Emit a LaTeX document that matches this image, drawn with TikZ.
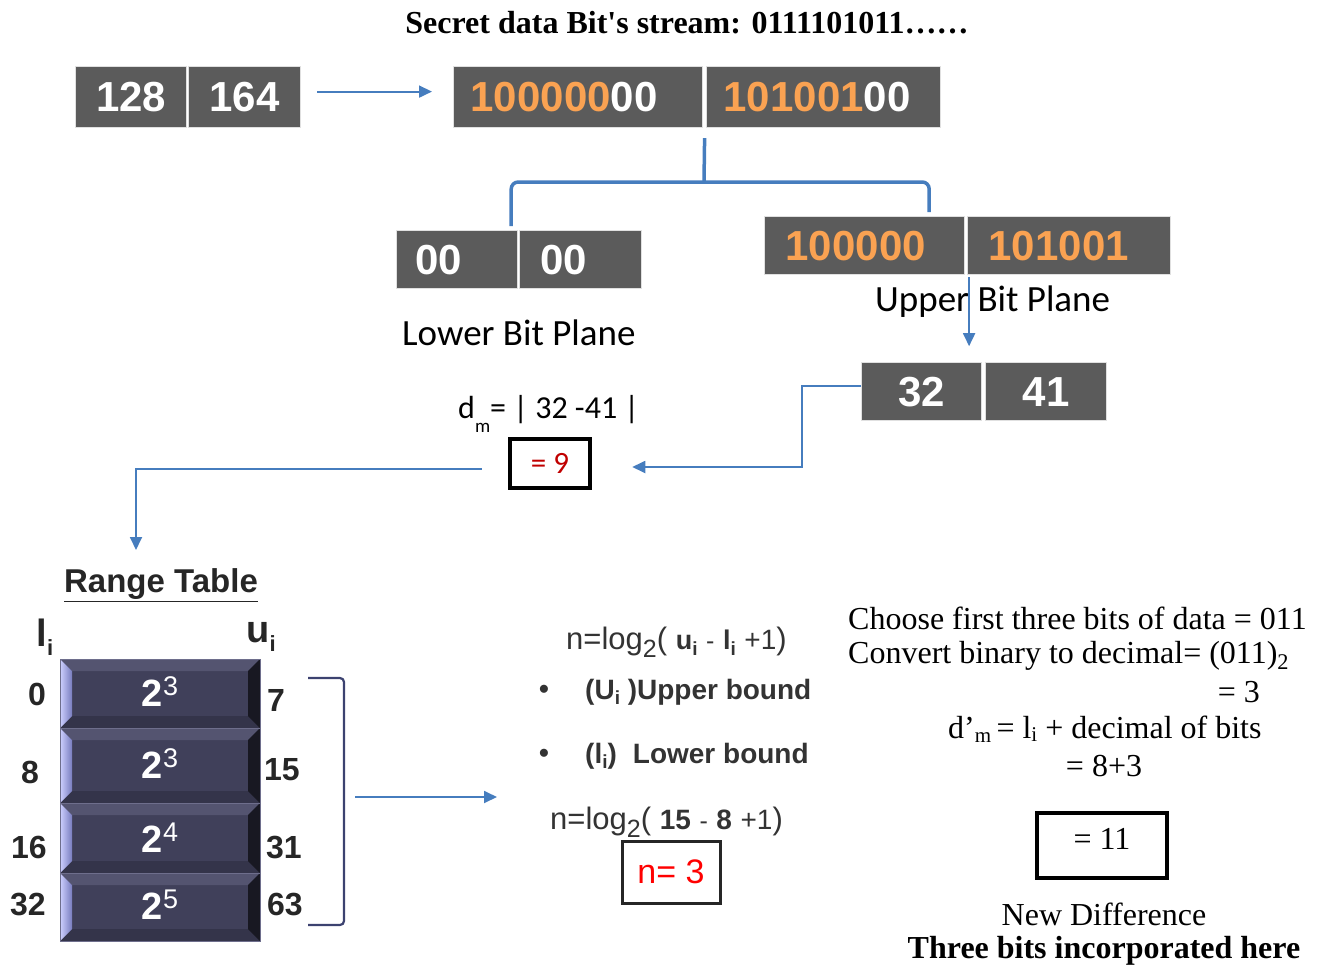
\documentclass[tikz,border=0pt]{standalone}
\usepackage{fontspec}
\setmainfont{Liberation Serif}
\setsansfont{Liberation Sans}
\newfontfamily\calibri{Carlito}
\newfontfamily\plainserif{Liberation Serif}[Ligatures=TeXOff]
\usetikzlibrary{arrows.meta,calc}

\newcommand\fsz[1]{\fontsize{#1}{#1}\selectfont}

\definecolor{cellgray}{RGB}{91,91,91}
\definecolor{bitorange}{RGB}{250,162,82}
\definecolor{flowblue}{RGB}{70,125,190}
\definecolor{plate}{RGB}{64,64,90}
\definecolor{platetop}{RGB}{84,84,112}
\definecolor{platebot}{RGB}{52,52,74}
\definecolor{plateright}{RGB}{24,24,34}
\definecolor{plateedge}{RGB}{110,110,140}
\definecolor{bracketcol}{RGB}{60,66,112}
\definecolor{inkgray}{RGB}{38,38,38}
\definecolor{formgray}{RGB}{51,51,51}
\definecolor{ninered}{RGB}{192,0,0}

\tikzset{
  cell/.style={fill=cellgray, draw=white!88!black, line width=1.2pt, text=white,
    font=\sffamily\bfseries\fsz{42}, inner sep=0pt, anchor=north west},
  flow/.style={draw=flowblue, line width=1.8pt, -{Triangle[length=13pt,width=12pt]}},
  tree/.style={draw=flowblue, line width=3.5pt},
  bracketline/.style={draw=bracketcol, line width=2.2pt, rounded corners=4pt},
  resbox/.style={draw=black, line width=4.5pt, inner sep=0pt},
  tnum/.style={font=\sffamily\bfseries\fsz{32}, text=inkgray, inner sep=0pt},
  expo/.style={font=\sffamily\bfseries\fsz{38}, text=white, inner sep=0pt},
  rtxt/.style={font=\fsz{32}, inner sep=0pt},
  form/.style={font=\sffamily\fsz{31}, text=formgray, inner sep=0pt},
  bul/.style={font=\sffamily\bfseries\fsz{28}, text=formgray, inner sep=0pt},
  cal/.style={font=\calibri\fsz{37}, inner sep=0pt}
}

\begin{document}
\begin{tikzpicture}[x=1pt,y=-1pt]
\useasboundingbox (0,0) rectangle (1317,966);

% heading
\node[font=\plainserif\bfseries\fsz{32}, inner sep=0pt] (title) at (687,23)
  {Secret data Bit's stream: 0111101011……};

% pixel pair and its binary form
\node[cell, minimum width=111pt, minimum height=61pt] (p128) at (75,66) {128};
\node[cell, minimum width=112pt, minimum height=61pt] (p164) at (188,66) {164};
\node[cell, minimum height=61pt, inner xsep=17pt, text width=215pt, align=left] (b1) at (453,66)
  {\textcolor{bitorange}{100000}00};
\node[cell, minimum height=61pt, inner xsep=17pt, text width=200pt, align=left] (b2) at (706,66)
  {\textcolor{bitorange}{101001}00};

% lower and upper bit planes
\node[cell, minimum height=58pt, inner xsep=19pt, text width=83pt, align=left] (lo1) at (396,230) {00};
\node[cell, minimum height=58pt, inner xsep=21pt, text width=80pt, align=left] (lo2) at (519,230) {00};
\node[cell, minimum height=58pt, inner xsep=21pt, text width=158pt, align=left, text=bitorange] (up1) at (764,216) {100000};
\node[cell, minimum height=58pt, inner xsep=21pt, text width=161pt, align=left, text=bitorange] (up2) at (967,216) {101001};
\node[cal, anchor=west] (lowlbl) at (402,333) {Lower Bit Plane};
\node[cal, anchor=west] (uplbl) at (875,302) {Upper Bit Plane};

% decimal values of the upper planes
\node[cell, minimum width=120pt, minimum height=58pt] (c32) at (861,362) {32};
\node[cell, minimum width=121pt, minimum height=58pt] (c41) at (985,362) {41};

% difference
\node[font=\calibri\fsz{32}, inner sep=0pt, anchor=west] (dm) at (458,414)
  {d\raisebox{-14pt}{\fsz{19}m}= | 32 -41 |};
\node[resbox, minimum width=80pt, minimum height=49pt, font=\calibri\fsz{31}, text=ninered] (nine) at (550,463.5) {= 9};

% connectors of the upper part
\draw[flow] ([xshift=16pt,yshift=5.5pt]p164.east) -- ([xshift=-21pt,yshift=5.5pt]b1.west);
\coordinate (fork) at (704,182);
\draw[tree] ($(b1.south east)!.5!(b2.south west)$) ++(0,10) -- (fork);
\draw[tree, rounded corners=7pt] ([xshift=-7pt,yshift=4pt]lo1.north east) |- (fork)
  -| ([xshift=-36pt,yshift=4pt]up1.north east);
\coordinate (split) at ($(up1.south east)!.5!(up2.south west)$);
\draw[flow] ([xshift=3pt,yshift=-2pt]split) -- ++(0,69);
\draw[flow] ([yshift=6pt]c32.west) -- ++(-59,0) |- ([xshift=40pt,yshift=-3.5pt]nine.east);
\coordinate (rtin) at (136,550);
\draw[flow] ([xshift=-26pt,yshift=-5.5pt]nine.west) -| (rtin);

% range table
\node[font=\sffamily\bfseries\fsz{33}, text=inkgray, inner sep=0pt] (rtitle) at (161,585) {\underline{Range Table}};
\node[inner sep=0pt, text=inkgray, font=\sffamily\bfseries] (lhead) at (45,637)
  {\fsz{38}l\raisebox{-9pt}{\fsz{22}i}};
\node[inner sep=0pt, text=inkgray, font=\sffamily\bfseries] (uhead) at (261,637)
  {\fsz{38}u\raisebox{-9pt}{\fsz{22}i}};

\foreach \t/\b in {659/728,728/803,803/873,873/941}{
  \fill[plate] (60,\t) rectangle (260,\b);
  \fill[platetop] (60,\t) -- (260,\t) -- (248,\t+12) -- (72,\t+12) -- cycle;
  \fill[platebot] (60,\b) -- (260,\b) -- (248,\b-12) -- (72,\b-12) -- cycle;
  \fill[plateright] (260,\t) -- (260,\b) -- (248,\b-12) -- (248,\t+12) -- cycle;
  \shade[left color={rgb,255:red,205;green,208;blue,255}, right color={rgb,255:red,120;green,124;blue,190}]
    (60,\t) -- (72,\t+12) -- (72,\b-12) -- (60,\b) -- cycle;
  \draw[plateedge, line width=0.8pt] (60,\t) rectangle (260,\b);
}
\node[expo] (e1) at (160,692) {2\raisebox{11pt}{\fsz{27}\mdseries 3}};
\node[expo] (e2) at (160,764) {2\raisebox{11pt}{\fsz{27}\mdseries 3}};
\node[expo] (e3) at (160,838) {2\raisebox{11pt}{\fsz{27}\mdseries 4}};
\node[expo] (e4) at (160,905) {2\raisebox{11pt}{\fsz{27}\mdseries 5}};

\node[tnum] (l0) at (37,694) {0};
\node[tnum] (l8) at (30,772) {8};
\node[tnum] (l16) at (29,847) {16};
\node[tnum] (l32) at (28,904) {32};
\node[tnum] (u7) at (276,700) {7};
\node[tnum] (u15) at (282,770) {15};
\node[tnum] (u31) at (284,847) {31};
\node[tnum] (u63) at (285,904) {63};

\draw[bracketline] (308,678) -- (344,678) -- (344,925) -- (308,925);
\coordinate (brk) at (344,797);
\draw[flow] ([xshift=11pt]brk) -- ++(142,0);

% bit count formula
\node[form, anchor=west] (f1) at (566,642)
  {n=log\raisebox{-8pt}{\fsz{25}2}( {\bfseries\fsz{27}u\raisebox{-6pt}{\fsz{19}i}} {\fsz{25}-} {\bfseries\fsz{27}l\raisebox{-6pt}{\fsz{19}i}} {\fsz{28}+1})};
\node[bul] (dot1) at (544,692) {•};
\node[bul, anchor=west] (ub) at (585,692) {(U\raisebox{-5pt}{\fsz{19}i} )Upper bound};
\node[bul] (dot2) at (544,756) {•};
\node[bul, anchor=west] (lb) at (585,756) {(l\raisebox{-5pt}{\fsz{19}i})\hspace{16pt}Lower bound};
\node[form, anchor=west] (f2) at (550,822)
  {n=log\raisebox{-8pt}{\fsz{25}2}( {\bfseries\fsz{28}15} {\fsz{25}-} {\bfseries\fsz{28}8} {\fsz{28}+1})};
\node[draw=inkgray, line width=3pt, minimum width=98pt, minimum height=62pt, inner sep=0pt,
  font=\sffamily\fsz{34}, text=red] (nbox) at (671,872) {n= 3};

% embedding of the secret bits
\node[rtxt, anchor=west] (ch1) at (848,618) {Choose first three bits of data = 011};
\node[rtxt, anchor=west] (ch2) at (848,656) {Convert binary to decimal= (011)\textsubscript{2}};
\node[rtxt, anchor=east] (ch3) at (1260,692) {= 3};
\node[rtxt, anchor=west] (ch4) at (948,729) {d’\raisebox{-4pt}{\fsz{21}m}\,= l\raisebox{-3pt}{\fsz{21}i} + decimal of bits};
\node[rtxt] (ch5) at (1104,766) {= 8+3};
\node[resbox, minimum width=130pt, minimum height=65pt] (eleven) at (1102,845.5) {};
\node[rtxt] (eleventxt) at ([yshift=7pt]eleven.center) {= 11};
\node[rtxt] (newd) at (1104,914) {New Difference};
\node[rtxt, font=\bfseries\fsz{32}] (three) at (1104,951) {Three bits incorporated here};
\end{tikzpicture}
\end{document}
